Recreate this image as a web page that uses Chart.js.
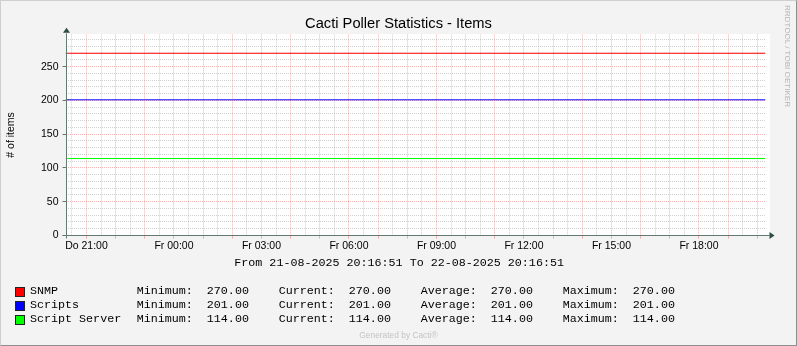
<!DOCTYPE html>
<html><head><meta charset="utf-8">
<script src="https://cdn.jsdelivr.net/npm/chart.js@4/dist/chart.umd.min.js"></script>
<style>
html,body{margin:0;padding:0;background:#f3f3f3;}
#wrap{position:relative;width:797px;height:346px;overflow:hidden;background:#f3f3f3;}
#c{position:absolute;left:0;top:0;}
#frame{position:absolute;left:0;top:0;width:797px;height:346px;box-sizing:border-box;border:1px solid;border-color:#cfcfcf #8e8e8e #8e8e8e #cfcfcf;pointer-events:none;}
.mono{position:absolute;font-family:"Liberation Mono","Courier New",monospace;font-size:11.7px;line-height:14px;white-space:pre;color:#000;}
.sq{position:absolute;width:10px;height:10px;box-sizing:border-box;border:1px solid #222;}
#gen{position:absolute;left:0;width:797px;top:329px;text-align:center;font-family:"Liberation Sans",Arial,sans-serif;font-size:8.4px;color:#c4c4c4;line-height:12px;}
#rrd{position:absolute;left:787px;top:56px;transform:translate(-50%,-50%) rotate(90deg);font-family:"Liberation Sans",Arial,sans-serif;font-size:8.1px;color:#b4b4b4;white-space:pre;line-height:10px;}
</style>
</head><body>
<div id="wrap">
<canvas id="c" width="797" height="346"></canvas>
<div id="legend"></div>
<div id="gen">Generated by Cacti®</div>
<div id="rrd">RRDTOOL / TOBI OETIKER</div>
<div id="frame"></div>
</div>
<script>
// ---- data ----
const title = 'Cacti Poller Statistics - Items';
const yAxisTitle = '# of items';
const rangeText = 'From 21-08-2025 20:16:51 To 22-08-2025 20:16:51';
const startHour = 20.280833;   // 20:16:51 Thursday
const endHour = 44.280833;     // 20:16:51 Friday
const sampleHours = [20.280833, 23, 26, 29, 32, 35, 38, 41, 44.280833];
const seriesNames = ['SNMP', 'Scripts', 'Script Server'];
const seriesColors = ['#ff0000', '#0000ff', '#00ff00'];
const snmp = [270, 270, 270, 270, 270, 270, 270, 270, 270];
const scripts = [201, 201, 201, 201, 201, 201, 201, 201, 201];
const scriptServer = [114, 114, 114, 114, 114, 114, 114, 114, 114];
const statMin = ['270.00', '201.00', '114.00'];
const statCur = ['270.00', '201.00', '114.00'];
const statAvg = ['270.00', '201.00', '114.00'];
const statMax = ['270.00', '201.00', '114.00'];
const tickHours = [21, 24, 27, 30, 33, 36, 39, 42];
const tickLabels = ['Do 21:00', 'Fr 00:00', 'Fr 03:00', 'Fr 06:00', 'Fr 09:00', 'Fr 12:00', 'Fr 15:00', 'Fr 18:00'];
const yMax = 298;

// ---- legend (HTML text) ----
const lg = document.getElementById('legend');
function addText(txt, x, y) {
  const d = document.createElement('div');
  d.className = 'mono'; d.textContent = txt;
  d.style.left = x + 'px'; d.style.top = y + 'px';
  lg.appendChild(d);
}
addText(rangeText, 234.3, 256.3);
const seriesData = [snmp, scripts, scriptServer];
seriesNames.forEach((n, i) => {
  const top = 284 + i * 13.9;
  const s = document.createElement('div');
  s.className = 'sq'; s.style.background = seriesColors[i];
  s.style.left = '14.5px'; s.style.top = (top + 2.8) + 'px';
  lg.appendChild(s);
  addText(n, 30, top);
  addText('Minimum:  ' + statMin[i], 136.7, top);
  addText('Current:  ' + statCur[i], 278.7, top);
  addText('Average:  ' + statAvg[i], 420.7, top);
  addText('Maximum:  ' + statMax[i], 562.7, top);
});

// ---- chart ----
const MAJOR = 'rgba(226,90,90,0.45)';
const MINOR = 'rgba(150,150,150,0.45)';
const AXIS = '#627c72';
const ARROW = '#2c4d43';

const frame = {
  id: 'rrdFrame',
  beforeDraw(chart) {
    const {ctx, chartArea: a} = chart;
    ctx.save();
    ctx.fillStyle = '#ffffff';
    ctx.fillRect(Math.round(a.left), Math.floor(a.top), Math.round(a.right) - Math.round(a.left) + 4, Math.floor(a.bottom) - Math.floor(a.top) + 1);
    ctx.restore();
  },
  afterDraw(chart) {
    const {ctx, chartArea: a} = chart;
    const y0 = Math.floor(chart.scales.y.getPixelForValue(0)) + 0.5;
    const x0 = Math.round(a.left) + 0.5;
    ctx.save();
    ctx.strokeStyle = AXIS; ctx.lineWidth = 1;
    ctx.beginPath();
    ctx.moveTo(x0, y0 + 3); ctx.lineTo(x0, a.top - 1);
    ctx.moveTo(x0 - 4, y0); ctx.lineTo(a.right + 4, y0);
    ctx.stroke();
    ctx.fillStyle = ARROW;
    ctx.beginPath();
    ctx.moveTo(x0 - 3.5, a.top - 1.5); ctx.lineTo(x0 + 3.5, a.top - 1.5); ctx.lineTo(x0, a.top - 6.5); ctx.closePath();
    ctx.fill();
    ctx.beginPath();
    ctx.moveTo(a.right + 4, y0 - 3.5); ctx.lineTo(a.right + 4, y0 + 3.5); ctx.lineTo(a.right + 9, y0); ctx.closePath();
    ctx.fill();
    ctx.restore();
  }
};

const datasets = seriesData.map((vals, i) => ({
  label: seriesNames[i],
  data: vals.map((v, k) => ({x: sampleHours[k], y: v})),
  borderColor: seriesColors[i],
  backgroundColor: seriesColors[i],
  borderWidth: 1,
  pointRadius: 0,
  tension: 0,
  fill: false
}));

const tickFont = {family: 'Liberation Sans, Arial, sans-serif', size: 10.5};

new Chart(document.getElementById('c'), {
  type: 'line',
  data: {datasets},
  plugins: [frame],
  options: {
    responsive: false,
    animation: false,
    devicePixelRatio: 1,
    layout: {padding: {left: 0, right: 0, top: 0, bottom: 0}},
    plugins: {
      legend: {display: false},
      tooltip: {enabled: false},
      title: {
        display: true, text: title, color: '#000',
        font: {family: 'Liberation Sans, Arial, sans-serif', size: 14.7, weight: 'normal'},
        padding: {top: 14.7, bottom: 2.0}
      }
    },
    scales: {
      x: {
        type: 'linear', min: startHour, max: endHour,
        afterFit(s) { s.height = 110.5; },
        afterBuildTicks(s) {
          const t = [];
          for (let i = Math.ceil(startHour * 2); i <= Math.floor(endHour * 2); i++) t.push({value: i / 2});
          s.ticks = t;
        },
        ticks: {
          autoSkip: false, maxRotation: 0, color: '#000', font: tickFont, padding: 1,
          callback: v => { const i = tickHours.indexOf(v); return i >= 0 ? tickLabels[i] : ''; }
        },
        grid: {
          color: c => (c.tick && Number.isInteger(c.tick.value)) ? MAJOR : MINOR,
          tickColor: c => (c.tick && Number.isInteger(c.tick.value)) ? MAJOR : 'rgba(0,0,0,0)',
          tickLength: 3, lineWidth: 1
        },
        border: {display: false, dash: [1, 1]}
      },
      y: {
        type: 'linear', min: 0, max: yMax,
        afterFit(s) { s.width = 65.5; },
        afterBuildTicks(s) {
          const t = [];
          for (let v = 0; v < yMax; v += 10) t.push({value: v});
          s.ticks = t;
        },
        ticks: {
          autoSkip: false, color: '#000', font: tickFont, padding: 4,
          callback: v => (v % 50 === 0 ? String(v) : '')
        },
        title: {
          display: true, text: yAxisTitle, color: '#000',
          font: {family: 'Liberation Sans, Arial, sans-serif', size: 10.5},
          padding: {top: 4.7, bottom: 0}
        },
        grid: {
          color: c => (c.tick && c.tick.value % 50 === 0) ? MAJOR : MINOR,
          tickColor: c => (c.tick && c.tick.value % 50 === 0) ? AXIS : 'rgba(0,0,0,0)',
          tickLength: 3, lineWidth: 1
        },
        border: {display: false, dash: [1, 1]}
      },
      yRight: {
        type: 'linear', position: 'right', min: 0, max: yMax,
        afterFit(s) { s.width = 31.5; },
        ticks: {display: false},
        grid: {display: false, drawTicks: false},
        border: {display: false}
      }
    }
  }
});
</script>
</body></html>
